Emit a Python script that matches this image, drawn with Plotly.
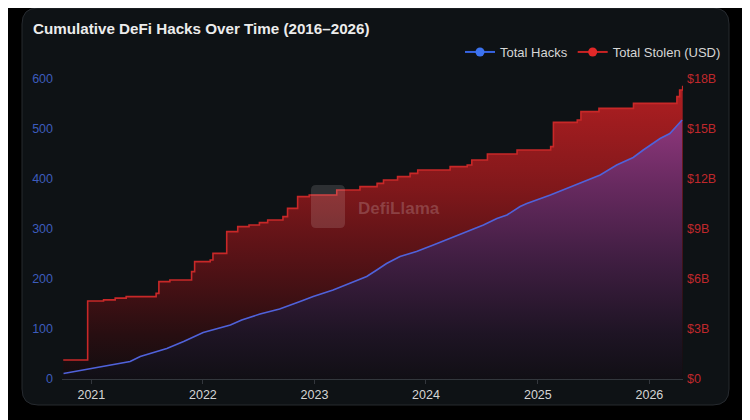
import plotly.graph_objects as go

# ---------------- data ----------------
stolen_dates = ["2020-10-01", "2020-12-20", "2021-02-10", "2021-03-20", "2021-04-25", "2021-08-01",
                "2021-08-10", "2021-09-15", "2021-11-25", "2021-12-05", "2022-01-25", "2022-02-03",
                "2022-03-20", "2022-04-25", "2022-06-01", "2022-07-05", "2022-08-01", "2022-09-20",
                "2022-10-05", "2022-11-07", "2022-12-15", "2023-03-15", "2023-05-30", "2023-07-25",
                "2023-08-15", "2023-09-30", "2023-11-10", "2023-12-05", "2024-03-20", "2024-05-15",
                "2024-05-30", "2024-07-20", "2024-10-25", "2025-02-12", "2025-02-21", "2025-05-10",
                "2025-05-22", "2025-07-20", "2025-11-10", "2026-04-01", "2026-04-10", "2026-04-20"]
stolen_billion = [1.14, 4.68, 4.75, 4.85, 4.94, 5.14,
                  5.84, 5.94, 6.44, 7.04, 7.14, 7.54,
                  8.84, 9.14, 9.24, 9.38, 9.54, 9.74,
                  10.24, 10.94, 11.04, 11.34, 11.54, 11.74,
                  11.94, 12.14, 12.34, 12.54, 12.74, 12.84,
                  13.14, 13.50, 13.74, 13.94, 15.40, 15.54,
                  16.04, 16.24, 16.54, 16.94, 17.34, 17.60]

hacks_dates = ["2020-10-02", "2021-01-01", "2021-02-21", "2021-05-08", "2021-06-10", "2021-07-13",
               "2021-09-05", "2021-10-30", "2022-01-02", "2022-04-01", "2022-05-08", "2022-07-07",
               "2022-09-09", "2022-11-15", "2022-12-28", "2023-03-03", "2023-04-27", "2023-06-21",
               "2023-07-24", "2023-08-25", "2023-10-08", "2023-12-01", "2024-01-25", "2024-03-20",
               "2024-05-14", "2024-07-07", "2024-08-20", "2024-09-22", "2024-11-04", "2024-11-26",
               "2025-02-11", "2025-04-06", "2025-05-30", "2025-07-24", "2025-09-16", "2025-11-09",
               "2025-12-12", "2026-02-05", "2026-03-09", "2026-04-18"]
hacks_total = [11, 21, 26, 35, 45, 51,
               61, 75, 93, 108, 118, 130,
               140, 155, 165, 178, 191, 205,
               218, 231, 245, 255, 268, 281,
               295, 308, 321, 328, 345, 351,
               368, 381, 395, 408, 428, 443,
               458, 481, 491, 518]

year_ticks = ["2021-01-01", "2022-01-01", "2023-01-01", "2024-01-01", "2025-01-01", "2026-01-01"]
year_labels = ["2021", "2022", "2023", "2024", "2025", "2026"]
usd_ticks_b = [0, 3, 6, 9, 12, 15, 18]
usd_labels = ["$0", "$3B", "$6B", "$9B", "$12B", "$15B", "$18B"]
hack_ticks = [0, 100, 200, 300, 400, 500, 600]

TITLE = "Cumulative DeFi Hacks Over Time (2016–2026)"

# ---------------- geometry (page has an 8px body offset) ----------------
OFF = 8
W, H = 750 - OFF, 420 - OFF
PLOT_X0, PLOT_X1, PLOT_Y0, PLOT_Y1 = 62, 683, 79, 379  # reference pixel coords
L, T = PLOT_X0 - OFF, PLOT_Y0 - OFF
R, B = W - (PLOT_X1 - OFF), H - (PLOT_Y1 - OFF)
PW, PH = PLOT_X1 - PLOT_X0, PLOT_Y1 - PLOT_Y0


def px(x):
    return (x - PLOT_X0) / PW


def py(y):
    return (PLOT_Y1 - y) / PH


FONT = "Liberation Sans, Arial, sans-serif"

fig = go.Figure()

# Total Stolen (primary y, right side) — drawn first
fig.add_trace(go.Scatter(
    x=stolen_dates, y=[v * 1e9 for v in stolen_billion],
    mode="lines", line=dict(color="rgb(200,40,40)", width=1.6, shape="hv"),
    fill="tozeroy",
    fillgradient=dict(type="vertical", start=0, stop=18e9,
                      colorscale=[[0, "rgb(17,13,16)"], [0.15, "rgb(40,14,17)"],
                                  [0.4, "rgb(86,18,22)"], [0.65, "rgb(130,24,27)"],
                                  [0.9, "rgb(165,29,32)"], [1, "rgb(175,31,34)"]]),
    showlegend=False, hoverinfo="skip", yaxis="y"))

# Total Hacks (secondary y, left side)
fig.add_trace(go.Scatter(
    x=hacks_dates, y=hacks_total,
    mode="lines", line=dict(color="rgb(80,98,218)", width=1.6),
    fill="tozeroy",
    fillgradient=dict(type="vertical", start=0, stop=600,
                      colorscale=[[0, "rgb(17,15,21)"], [0.15, "rgb(30,20,36)"],
                                  [0.4, "rgb(64,30,66)"], [0.65, "rgb(104,42,96)"],
                                  [0.85, "rgb(140,54,122)"], [1, "rgb(155,60,132)"]]),
    showlegend=False, hoverinfo="skip", yaxis="y2"))

# legend entries
fig.add_trace(go.Scatter(x=[None], y=[None], name="Total Hacks", mode="lines+markers",
                         line=dict(color="rgb(55,100,225)", width=2),
                         marker=dict(color="rgb(60,115,240)", size=9), yaxis="y2"))
fig.add_trace(go.Scatter(x=[None], y=[None], name="Total Stolen (USD)", mode="lines+markers",
                         line=dict(color="rgb(200,35,35)", width=2),
                         marker=dict(color="rgb(225,40,40)", size=9), yaxis="y"))

# card background (rounded)
x0, x1 = px(22), px(729)
y0, y1 = py(405), py(8)
rx, ry = 16 / PW, 16 / PH
card_path = (f"M {x0+rx},{y1} L {x1-rx},{y1} Q {x1},{y1} {x1},{y1-ry} "
             f"L {x1},{y0+ry} Q {x1},{y0} {x1-rx},{y0} L {x0+rx},{y0} "
             f"Q {x0},{y0} {x0},{y0+ry} L {x0},{y1-ry} Q {x0},{y1} {x0+rx},{y1} Z")

# watermark logo box
lx0, lx1 = px(311), px(345)
ly0, ly1 = py(228), py(185)
lrx, lry = 5 / PW, 5 / PH
logo_path = (f"M {lx0+lrx},{ly1} L {lx1-lrx},{ly1} Q {lx1},{ly1} {lx1},{ly1-lry} "
             f"L {lx1},{ly0+lry} Q {lx1},{ly0} {lx1-lrx},{ly0} L {lx0+lrx},{ly0} "
             f"Q {lx0},{ly0} {lx0},{ly0+lry} L {lx0},{ly1-lry} Q {lx0},{ly1} {lx0+lrx},{ly1} Z")

fig.update_layout(
    width=W, height=H,
    margin=dict(l=L, r=R, t=T, b=B, pad=0),
    paper_bgcolor="#000000",
    plot_bgcolor="rgba(0,0,0,0)",
    font=dict(family=FONT, color="#d8d8d8", size=12),
    shapes=[
        dict(type="path", path=card_path, xref="paper", yref="paper",
             fillcolor="#0e1215", line=dict(color="#262a2f", width=1), layer="below"),
        dict(type="path", path=logo_path, xref="paper", yref="paper",
             fillcolor="rgba(255,255,255,0.13)", line=dict(width=0), layer="above"),
    ],
    annotations=[
        dict(text=f"<b>{TITLE}</b>", xref="paper", yref="paper", x=px(31), y=py(28),
             xanchor="left", yanchor="middle", showarrow=False,
             font=dict(family=FONT, size=15.2, color="#ececec")),
        dict(text="<b>DefiLlama</b>", xref="paper", yref="paper", x=px(399), y=py(208),
             xanchor="center", yanchor="middle", showarrow=False,
             font=dict(family=FONT, size=17, color="rgba(255,255,255,0.19)")),
    ],
    legend=dict(orientation="h", xanchor="right", x=px(726), yanchor="middle", y=py(52),
                bgcolor="rgba(0,0,0,0)", font=dict(size=13, color="#d6d6d6"),
                itemwidth=30, tracegroupgap=0),
    xaxis=dict(type="date", range=["2020-09-27", "2026-04-21"],
               tickvals=year_ticks, ticktext=year_labels,
               showgrid=False, zeroline=False, showline=True, linecolor="#33373d", linewidth=1,
               ticks="outside", ticklen=4, tickcolor="#33373d",
               tickfont=dict(size=12.5, color="#d5d5d5")),
    yaxis=dict(range=[0, 18e9], tickvals=[v * 1e9 for v in usd_ticks_b], ticktext=usd_labels,
               side="right", showgrid=False, zeroline=False, showline=False,
               ticks="", ticklabelstandoff=3,
               tickfont=dict(size=12.5, color="#c0282c")),
    yaxis2=dict(range=[0, 600], tickvals=hack_ticks, overlaying="y", side="left",
                showgrid=False, zeroline=False, showline=False,
                ticks="", ticklabelstandoff=8,
                tickfont=dict(size=12.5, color="#3d5cbc")),
)

fig.write_html("out.html")
